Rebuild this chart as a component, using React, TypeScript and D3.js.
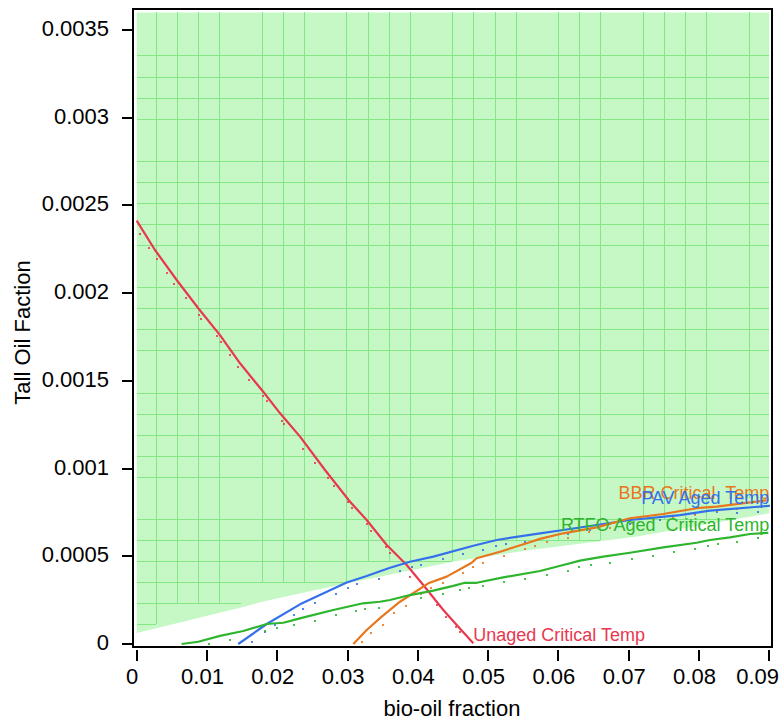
import React from 'react';
import * as d3 from 'd3';

type P = [number, number];

// ---- axis ticks ----
const xTicks = [0, 0.01, 0.02, 0.03, 0.04, 0.05, 0.06, 0.07, 0.08, 0.09];
const xTickLabels = ['0', '0.01', '0.02', '0.03', '0.04', '0.05', '0.06', '0.07', '0.08', '0.09'];
const yTicks = [0, 0.0005, 0.001, 0.0015, 0.002, 0.0025, 0.003, 0.0035];
const yTickLabels = ['0', '0.0005', '0.001', '0.0015', '0.002', '0.0025', '0.003', '0.0035'];

// ---- feasible (green) region: lower boundary ----
const regionTop = 0.0036;
const regionBoundary: P[] = [
  [0, 0.000063], [0.006, 0.000121], [0.015, 0.00021], [0.018, 0.000242], [0.024, 0.000295],
  [0.03, 0.000346], [0.045, 0.000469], [0.056, 0.000536], [0.071, 0.000612], [0.09, 0.000745],
];

// ---- mesh grid of the region ----
const gridX0 = -0.00027, gridDX = 0.003011, gridXMissing = [5, 9, 14, 19, 23, 28];
const gridY0 = -0.000008, gridDY = 0.0001201, gridYMissing = [7, 13, 18, 24, 29];

// ---- Unaged Critical Temp (red) ----
const unagedLine: P[] = [
  [0, 0.002413], [0.0026, 0.002246], [0.00569, 0.002075], [0.00876, 0.001914], [0.01185, 0.001761],
  [0.0147, 0.0016], [0.018, 0.001438], [0.0204, 0.001315], [0.02324, 0.001182], [0.02679, 0.000992],
  [0.03035, 0.000811], [0.03272, 0.000707], [0.03557, 0.000564], [0.03841, 0.00045], [0.04077, 0.000336],
  [0.04362, 0.000194], [0.04553, 0.000108], [0.04789, 0.000004],
];
const unagedDots: P[] = [
  [0.00047, 0.002337], [0.00179, 0.002259], [0.00285, 0.002195], [0.00427, 0.002117], [0.00535, 0.002052],
  [0.00701, 0.001974], [0.00891, 0.001877], [0.00915, 0.001854], [0.01138, 0.001756], [0.01195, 0.001723],
  [0.01327, 0.001646], [0.01437, 0.001581], [0.01602, 0.001503], [0.01793, 0.001415], [0.0185, 0.001383],
  [0.02067, 0.001273], [0.021, 0.001252], [0.0237, 0.00111], [0.02537, 0.001033], [0.02726, 0.000945],
  [0.02811, 0.000901], [0.0301, 0.000811], [0.03059, 0.000777], [0.03272, 0.000682], [0.03329, 0.000646],
  [0.03547, 0.000551], [0.03604, 0.000517], [0.03888, 0.000384], [0.04268, 0.000222], [0.044, 0.000156],
  [0.04542, 0.000099], [0.046, 0.00007],
];

// ---- PAV Aged Temp (blue) ----
const pavLine: P[] = [
  [0.01445, 0], [0.0185, 0.000114], [0.02323, 0.000226], [0.02988, 0.000351], [0.03272, 0.000388],
  [0.03604, 0.000435], [0.03888, 0.000469], [0.0422, 0.000498], [0.04789, 0.00056], [0.05122, 0.000593],
  [0.05738, 0.000631], [0.06069, 0.00065], [0.07018, 0.000707], [0.07729, 0.000735], [0.08156, 0.00076],
  [0.0901, 0.000788],
];
const pavDots: P[] = [
  [0.01636, 0.000013], [0.01825, 0.000067], [0.01968, 0.000108], [0.02234, 0.000165], [0.02373, 0.000198],
  [0.02537, 0.000232], [0.0284, 0.000285], [0.03003, 0.000318], [0.03138, 0.00034], [0.03443, 0.000372],
  [0.03746, 0.000416], [0.03912, 0.000441], [0.04045, 0.00045], [0.04353, 0.000483], [0.04647, 0.000513],
  [0.04923, 0.000536], [0.05112, 0.000559], [0.05254, 0.00057], [0.05529, 0.000581], [0.05833, 0.000608],
  [0.0614, 0.000625], [0.06449, 0.00065], [0.07018, 0.000684], [0.07445, 0.000707], [0.07943, 0.000741],
  [0.08252, 0.000754], [0.08536, 0.000748], [0.08843, 0.000754],
];

// ---- BBR Critical Temp (orange) ----
const bbrLine: P[] = [
  [0.03082, 0], [0.03272, 0.00008], [0.03486, 0.000156], [0.03746, 0.000241], [0.04148, 0.000346],
  [0.0441, 0.000384], [0.04766, 0.000463], [0.04837, 0.000489], [0.05169, 0.000526], [0.05548, 0.000574],
  [0.05738, 0.000599], [0.06069, 0.000631], [0.06544, 0.000665], [0.07018, 0.000717], [0.07492, 0.000741],
  [0.07967, 0.000774], [0.08252, 0.000783], [0.08986, 0.000821],
];
const bbrDots: P[] = [
  [0.03201, 0.000013], [0.03329, 0.000064], [0.035, 0.000108], [0.03663, 0.000175], [0.03831, 0.000217],
  [0.04045, 0.000285], [0.04183, 0.000318], [0.04353, 0.000349], [0.04647, 0.000406], [0.04789, 0.000441],
  [0.04922, 0.00046], [0.05226, 0.000503], [0.05524, 0.00054], [0.05667, 0.000559], [0.05833, 0.000583],
  [0.0614, 0.000603], [0.06439, 0.00064], [0.06734, 0.00066], [0.07042, 0.000691], [0.0735, 0.000707],
  [0.07634, 0.000722], [0.07943, 0.000735], [0.08252, 0.00076], [0.08536, 0.000768], [0.08843, 0.000783],
];

// ---- RTFO Aged Critical Temp (green) ----
const rtfoLine: P[] = [
  [0.0064, 0], [0.00876, 0.000013], [0.01185, 0.000046], [0.01517, 0.000074], [0.0185, 0.000114],
  [0.02086, 0.000121], [0.02323, 0.000146], [0.02419, 0.000156], [0.02797, 0.000194], [0.0322, 0.000232],
  [0.03461, 0.000241], [0.03604, 0.000251], [0.03888, 0.000279], [0.0422, 0.000304], [0.04504, 0.000331],
  [0.04671, 0.000349], [0.04837, 0.000349], [0.05215, 0.00038], [0.05738, 0.000416], [0.06069, 0.00045],
  [0.06307, 0.000475], [0.06638, 0.000498], [0.07018, 0.00052], [0.07492, 0.000551], [0.07967, 0.000577],
  [0.08156, 0.000593], [0.08441, 0.000608], [0.08725, 0.000627], [0.08986, 0.000634],
];
const rtfoDots: P[] = [
  [0.01029, 0], [0.01327, 0.000023], [0.01636, 0.000057], [0.01825, 0.000076], [0.01992, 0.000089],
  [0.02234, 0.000109], [0.02537, 0.000133], [0.0284, 0.000165], [0.03117, 0.000186], [0.03248, 0.000198],
  [0.03443, 0.000208], [0.04045, 0.000264], [0.04353, 0.000285], [0.046, 0.000308], [0.04732, 0.000318],
  [0.04923, 0.000331], [0.05226, 0.000352], [0.05529, 0.000372], [0.05833, 0.000393], [0.0614, 0.000418],
  [0.06297, 0.000441], [0.06459, 0.00045], [0.06734, 0.00046], [0.07042, 0.000485], [0.0735, 0.000503],
  [0.07644, 0.000526], [0.07943, 0.00054], [0.08132, 0.000559], [0.08274, 0.00057], [0.08545, 0.000583],
  [0.08843, 0.000606],
];

const seriesNames = ['Unaged Critical Temp', 'PAV Aged Temp', 'BBR Critical  Temp', 'RTFO Aged  Critical Temp'];
const seriesColors = ['#e8384f', '#3570ec', '#e8761c', '#2db52d'];
const seriesLines = [unagedLine, pavLine, bbrLine, rtfoLine];
const seriesDots = [unagedDots, pavDots, bbrDots, rtfoDots];
// label anchor points (data coords) and anchoring
const labelPos: P[] = [[0.04789, 0.000017], [0.09, 0.000798], [0.09, 0.000825], [0.09, 0.000646]];
const labelAnchor = ['start', 'end', 'end', 'end'];
const labelOrder = [0, 2, 1, 3];

const W = 782, H = 721;
const frame = { left: 133, right: 772, top: 9, bottom: 647 };
const FONT = '"Liberation Sans", Arial, Helvetica, sans-serif';

export default function App() {
  const x = d3.scaleLinear().domain([0, 0.09]).range([136.7, 769.3]);
  const y = d3.scaleLinear().domain([0, 0.0035]).range([644, 30]);
  const px = (v: number) => Math.round(v) + 0.5;

  const boundaryAt = (xv: number) => {
    const b = regionBoundary;
    if (xv <= b[0][0]) return b[0][1];
    for (let i = 1; i < b.length; i++) {
      if (xv <= b[i][0]) {
        const t = (xv - b[i - 1][0]) / (b[i][0] - b[i - 1][0]);
        return b[i - 1][1] + t * (b[i][1] - b[i - 1][1]);
      }
    }
    return b[b.length - 1][1];
  };

  const area = d3.area<P>().x((d) => x(d[0])).y0((d) => y(d[1])).y1(() => y(regionTop));
  const line = d3.line<P>().x((d) => x(d[0])).y((d) => y(d[1]));

  // grid
  const xNodes: number[] = [];
  const xLines: number[] = [];
  for (let i = 1; i < 30; i++) {
    const xv = gridX0 + i * gridDX;
    xNodes.push(xv);
    if (!gridXMissing.includes(i)) xLines.push(xv);
  }
  const yNodes: number[] = [];
  for (let j = 1; j < 30; j++) yNodes.push(gridY0 + j * gridDY);
  const yLineIdx = d3.range(1, 30).filter((j) => !gridYMissing.includes(j));
  const allX = [0, ...xNodes, 0.09];

  const gridSegs: { x1: number; y1: number; x2: number; y2: number }[] = [];
  xLines.forEach((xv) => {
    const b = boundaryAt(xv);
    const inside = yNodes.filter((yv) => yv >= b);
    if (inside.length) {
      const lowest = Math.min(...inside);
      gridSegs.push({ x1: px(x(xv)), y1: Math.round(y(regionTop)), x2: px(x(xv)), y2: Math.round(y(lowest)) });
    }
  });
  yLineIdx.forEach((j) => {
    const yv = gridY0 + j * gridDY;
    for (let k = 0; k < allX.length - 1; k++) {
      const a = allX[k], c = allX[k + 1];
      if (yv >= boundaryAt(a) && yv >= boundaryAt(c)) {
        gridSegs.push({ x1: Math.round(x(a)), y1: px(y(yv)), x2: Math.round(x(c)), y2: px(y(yv)) });
      }
    }
  });

  return (
    <svg width={W} height={H} style={{ position: 'absolute', left: 0, top: 0, background: '#fff' }} fontFamily={FONT}>
      <rect x={0} y={0} width={W} height={H} fill="#fff" />
      <path d={area(regionBoundary) || ''} fill="#c6f8c6" />
      <g shapeRendering="crispEdges">
        {gridSegs.map((s, i) => (
          <line key={'g' + i} x1={s.x1} y1={s.y1} x2={s.x2} y2={s.y2} stroke="#84e684" strokeWidth={1} />
        ))}
      </g>
      {seriesDots.map((dots, si) =>
        dots.map((d, i) => (
          <rect key={`d${si}-${i}`} x={Math.round(x(d[0])) - 1} y={Math.round(y(d[1])) - 1} width={2} height={2}
            fill={seriesColors[si]} opacity={0.85} shapeRendering="crispEdges" />
        ))
      )}
      {seriesLines.map((pts, si) => (
        <path key={'l' + si} d={line(pts) || ''} fill="none" stroke={seriesColors[si]} strokeWidth={2.2} strokeLinejoin="round" />
      ))}
      {labelOrder.map((si) => (
        <text key={'t' + si} x={x(labelPos[si][0])} y={y(labelPos[si][1])} fill={seriesColors[si]} fontSize={18}
          textAnchor={labelAnchor[si] as any} style={{ whiteSpace: 'pre' }}>{seriesNames[si]}</text>
      ))}
      {/* frame */}
      <rect x={frame.left} y={frame.top} width={frame.right - frame.left} height={frame.bottom - frame.top}
        fill="none" stroke="#000" strokeWidth={2} shapeRendering="crispEdges" />
      {/* x axis */}
      {xTicks.map((t, i) => (
        <g key={'xt' + i}>
          <line x1={Math.round(x(t))} x2={Math.round(x(t))} y1={650} y2={661} stroke="#000" strokeWidth={2} shapeRendering="crispEdges" />
          <text x={i === xTicks.length - 1 ? W - 3 : x(t) - 4.5} y={684} fontSize={22}
            textAnchor={i === xTicks.length - 1 ? 'end' : 'middle'} fill="#000">{xTickLabels[i]}</text>
        </g>
      ))}
      {/* y axis */}
      {yTicks.map((t, i) => (
        <g key={'yt' + i}>
          <line x1={121.5} x2={frame.left} y1={Math.round(y(t))} y2={Math.round(y(t))} stroke="#000" strokeWidth={2} shapeRendering="crispEdges" />
          <text x={109} y={y(t) + 6} fontSize={22} textAnchor="end" fill="#000">{yTickLabels[i]}</text>
        </g>
      ))}
      <text x={452} y={716} fontSize={22} textAnchor="middle" fill="#000">bio-oil fraction</text>
      <text transform="translate(30,332.5) rotate(-90)" fontSize={22} textAnchor="middle" fill="#000">Tall Oil Faction</text>
    </svg>
  );
}
